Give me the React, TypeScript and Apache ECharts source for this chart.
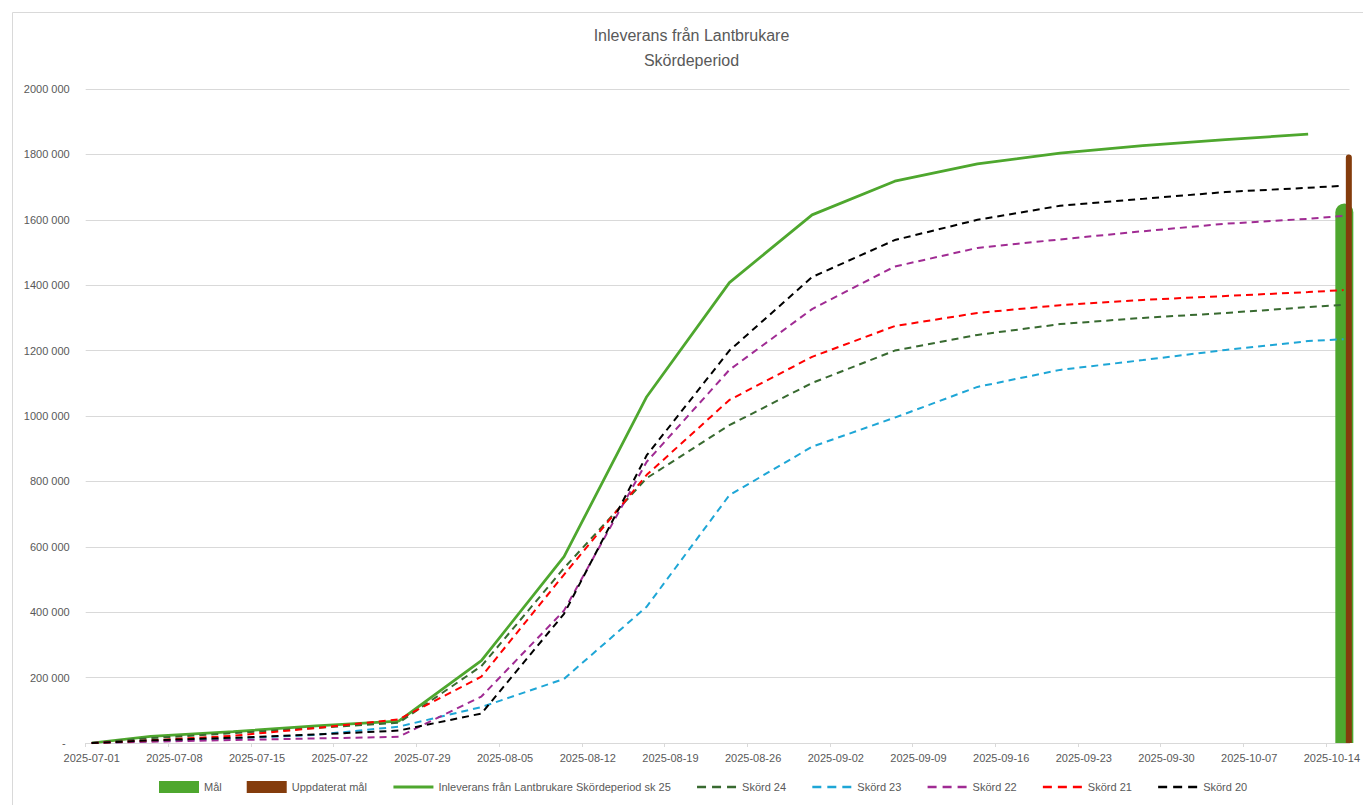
import React, { useEffect, useRef } from "react";
import * as echarts from "echarts";

// ---------- data ----------
const startDate = "2025-07-01";
const dates = [
  "2025-07-01", "2025-07-06", "2025-07-13", "2025-07-20", "2025-07-27",
  "2025-08-03", "2025-08-10", "2025-08-17", "2025-08-24", "2025-08-31",
  "2025-09-07", "2025-09-14", "2025-09-21", "2025-09-28", "2025-10-05",
  "2025-10-12", "2025-10-15",
];
const targetDate = "2025-10-15";

const inleverans = [0, 20000, 35000, 52000, 67000, 252000, 570000, 1059000, 1408000, 1615000, 1718000, 1771000, 1804000, 1827000, 1845000, 1862000];
const skord24 = [0, 15000, 30000, 46000, 62000, 235000, 535000, 810000, 972000, 1101000, 1200000, 1248000, 1281000, 1300000, 1315000, 1333000, 1340000];
const skord23 = [0, 6000, 14000, 25000, 50000, 110000, 196000, 417000, 758000, 906000, 995000, 1089000, 1141000, 1171000, 1202000, 1229000, 1235000];
const skord22 = [0, 4000, 9000, 14000, 19000, 142000, 405000, 860000, 1141000, 1327000, 1457000, 1514000, 1540000, 1565000, 1588000, 1603000, 1612000];
const skord21 = [0, 8000, 22000, 46000, 72000, 203000, 515000, 820000, 1049000, 1181000, 1275000, 1315000, 1339000, 1355000, 1367000, 1379000, 1385000];
const skord20 = [0, 8000, 16000, 26000, 38000, 90000, 395000, 880000, 1200000, 1425000, 1538000, 1600000, 1643000, 1664000, 1685000, 1698000, 1704000];
const malValue = [1650000];
const uppdateratMalValue = [1800000];

const seriesNames = [
  "Mål",
  "Uppdaterat mål",
  "Inleverans från Lantbrukare Skördeperiod sk 25",
  "Skörd 24",
  "Skörd 23",
  "Skörd 22",
  "Skörd 21",
  "Skörd 20",
];
const titleLines = ["Inleverans från Lantbrukare", "Skördeperiod"];

// ---------- helpers ----------
const DAY = 86400000;
const dayOf = (d: string) => Math.round((Date.parse(d) - Date.parse(startDate)) / DAY);
const dateLabel = (v: number) =>
  new Date(Date.parse(startDate) + Math.round(v + 0.5) * DAY).toISOString().slice(0, 10);
const pairs = (vals: number[]) => vals.map((v, i) => [dayOf(dates[i]), v]);
const yLabel = (v: number) => (v === 0 ? "{dash|-}" : `${Math.round(v / 1000)} 000`);

const FONT = "'Liberation Sans', Arial, sans-serif";
const TXT = "#595959";
const GRID = "#d9d9d9";

const colors = {
  mal: "#4ea72e",
  upp: "#843c0c",
  inl: "#4ea72e",
  s24: "#386a30",
  s23: "#1ea6d6",
  s22: "#a02b93",
  s21: "#ff0000",
  s20: "#000000",
};

export default function App() {
  const ref = useRef<HTMLDivElement>(null);

  useEffect(() => {
    if (!ref.current) return;
    const chart = echarts.init(ref.current, undefined, { renderer: "svg" });

    const dashed = (name: string, color: string, vals: number[]) => ({
      name,
      type: "line",
      data: pairs(vals),
      symbol: "none",
      showSymbol: false,
      lineStyle: { color, width: 2, type: [7, 5] },
      itemStyle: { color },
    });

    const td = dayOf(targetDate);

    chart.setOption({
      animation: false,
      textStyle: { fontFamily: FONT },
      title: {
        text: titleLines.join("\n"),
        left: 691.5,
        top: 23,
        textAlign: "center",
        padding: 0,
        textStyle: { fontSize: 16, fontWeight: "normal", color: TXT, lineHeight: 25, fontFamily: FONT },
      },
      graphic: [
        {
          type: "rect",
          z: -10,
          silent: true,
          shape: { x: 12.5, y: 12.5, width: 1500, height: 1000 },
          style: { fill: "none", stroke: GRID, lineWidth: 1 },
        },
      ],
      legend: {
        left: 159,
        top: 781,
        padding: 0,
        itemGap: 25,
        itemWidth: 40,
        itemHeight: 12,
        textStyle: { color: TXT, fontSize: 11, fontFamily: FONT },
        data: [
          { name: seriesNames[0], icon: "rect" },
          { name: seriesNames[1], icon: "rect" },
          { name: seriesNames[2], itemStyle: { opacity: 0 }, lineStyle: { width: 3 } },
          ...seriesNames.slice(3).map((n) => ({
            name: n,
            itemStyle: { opacity: 0 },
            lineStyle: { width: 2.5, type: [9, 6] },
          })),
        ],
      },
      grid: { left: 85.7, right: 7.3, top: 89, bottom: 62 },
      xAxis: {
        type: "value",
        min: -0.5,
        max: 106.5,
        interval: 7,
        axisLine: { show: true, lineStyle: { color: GRID } },
        axisTick: { show: true, length: 4, lineStyle: { color: GRID } },
        splitLine: { show: false },
        axisLabel: {
          formatter: dateLabel,
          color: TXT,
          fontSize: 11,
          margin: 9,
          showMaxLabel: false,
          padding: [0, 0, 0, 12],
          fontFamily: FONT,
        },
      },
      yAxis: {
        type: "value",
        min: 0,
        max: 2000000,
        interval: 200000,
        axisLine: { show: false },
        axisTick: { show: false },
        splitLine: { lineStyle: { color: GRID } },
        axisLabel: {
          formatter: yLabel,
          color: TXT,
          fontSize: 11,
          margin: 16,
          fontFamily: FONT,
          rich: { dash: { padding: [0, 4, 0, 0], color: TXT, fontSize: 11, fontFamily: FONT } },
        },
      },
      series: [
        {
          name: seriesNames[0],
          type: "bar",
          data: [[td, malValue[0]]],
          barWidth: 18,
          barGap: "-41.67%",
          itemStyle: { color: colors.mal, borderRadius: [9, 9, 0, 0] },
        },
        {
          name: seriesNames[1],
          type: "bar",
          data: [[td, uppdateratMalValue[0]]],
          barWidth: 6,
          barGap: "-41.67%",
          itemStyle: { color: colors.upp, borderRadius: [3, 3, 0, 0] },
        },
        {
          name: seriesNames[2],
          type: "line",
          data: pairs(inleverans),
          symbol: "none",
          showSymbol: false,
          lineStyle: { color: colors.inl, width: 2.75 },
          itemStyle: { color: colors.inl },
        },
        dashed(seriesNames[3], colors.s24, skord24),
        dashed(seriesNames[4], colors.s23, skord23),
        dashed(seriesNames[5], colors.s22, skord22),
        dashed(seriesNames[6], colors.s21, skord21),
        dashed(seriesNames[7], colors.s20, skord20),
      ],
    });

    return () => chart.dispose();
  }, []);

  return (
    <div
      ref={ref}
      style={{ position: "fixed", left: 0, top: 0, width: 1363, height: 805, background: "#fff" }}
    />
  );
}
